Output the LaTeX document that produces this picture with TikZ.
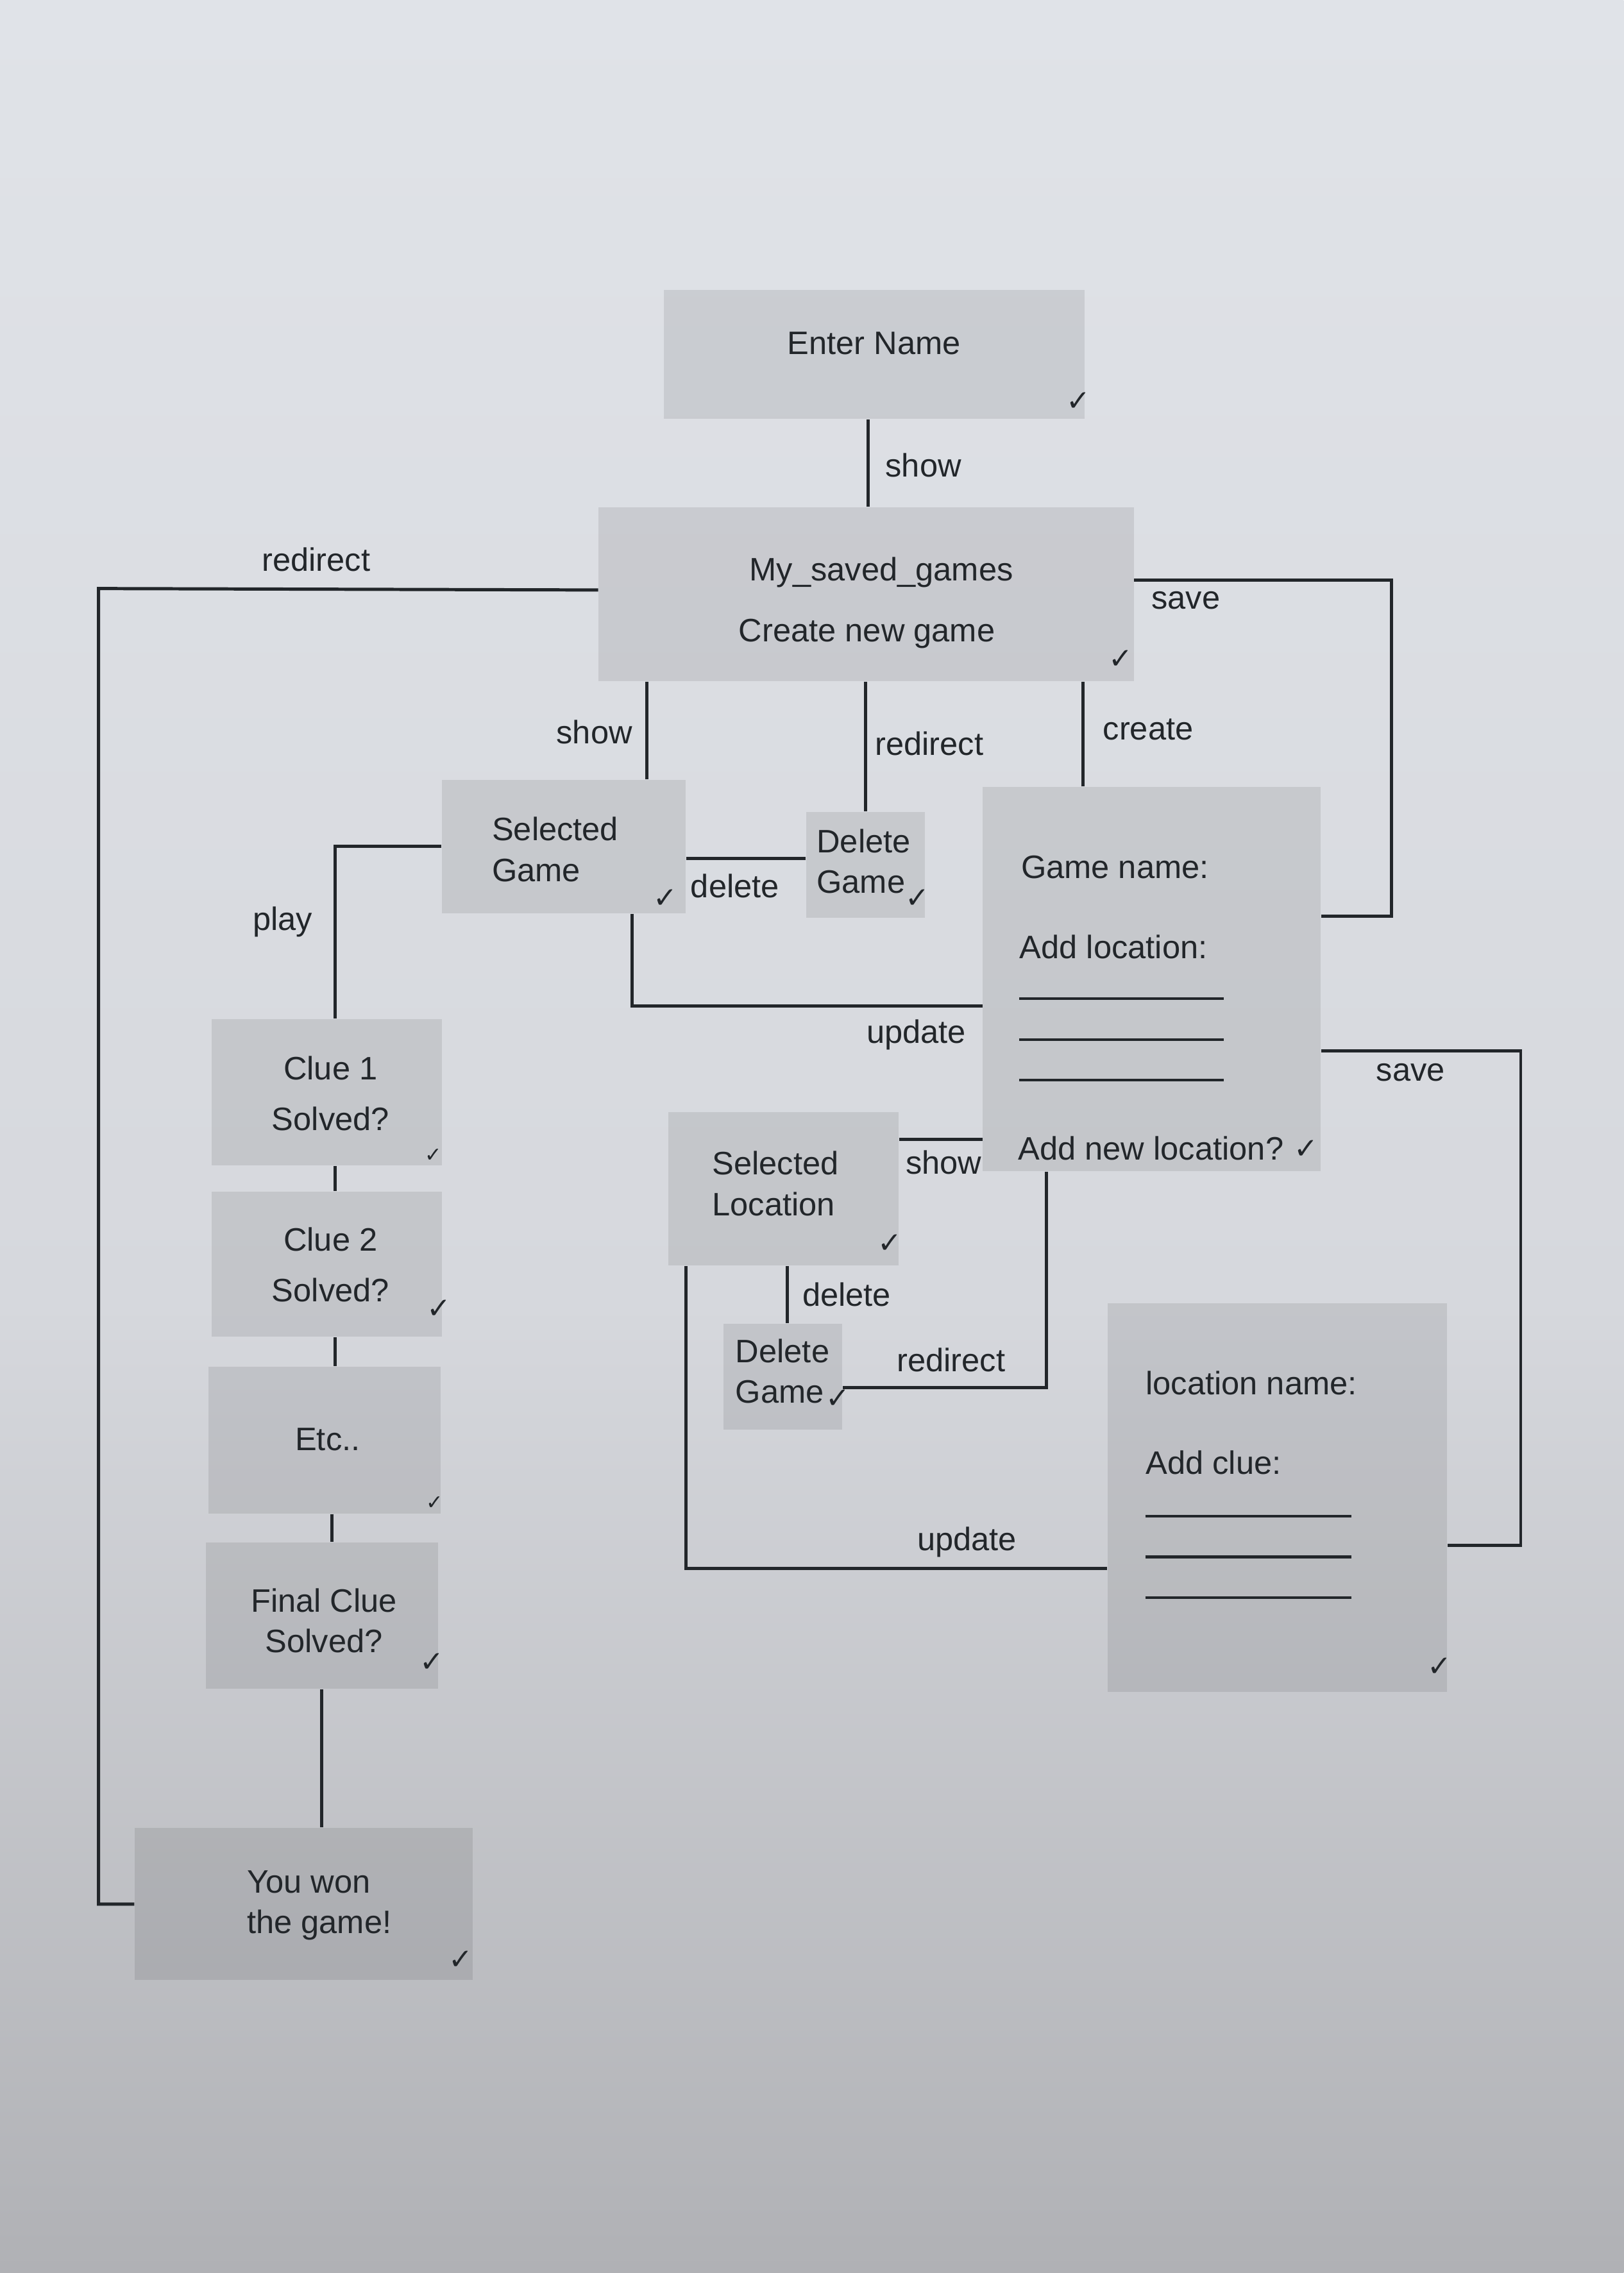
\documentclass[tikz,border=0pt]{standalone}
\usepackage{fontspec}
\setmainfont{Liberation Sans}
\newfontfamily\chkfont{DejaVu Sans}
\usetikzlibrary{calc}
\definecolor{ink}{RGB}{34,38,42}
\definecolor{bgtop}{RGB}{224,227,232}
\definecolor{bgmid}{RGB}{214,216,221}
\definecolor{bgbot}{RGB}{176,177,181}
\tikzset{
  box/.style={rectangle, draw=none, fill=black, fill opacity=0.085, text opacity=1, inner sep=0pt},
  txt/.style={text=ink, font=\fontsize{11.2}{14}\selectfont, inner sep=0pt},
  cluetxt/.style={text=ink, font=\fontsize{11.2}{17.5}\selectfont, inner sep=0pt, align=center},
  lbl/.style={text=ink, font=\fontsize{11.2}{14}\selectfont, inner sep=0pt},
  chk/.style={text=ink, font=\chkfont\fontsize{10}{10}\selectfont, inner sep=0pt},
  smallchk/.style={text=ink, font=\chkfont\fontsize{7}{7}\selectfont, inner sep=0pt},
  conn/.style={draw=ink, line width=1.1pt},
  blank/.style={draw=ink, line width=0.9pt}
}
\begin{document}
\begin{tikzpicture}[x=0.5pt,y=-0.5pt]
\useasboundingbox (0,0) rectangle (1120,1568);
\shade[top color=bgtop, bottom color=bgmid] (0,0) rectangle (1120,900);
\shade[top color=bgmid, bottom color=bgbot] (0,899) rectangle (1120,1568);

% boxes
\node[box, minimum width=145pt, minimum height=44.5pt] (enter) at (603,244.5) {};
\node[box, minimum width=184.5pt, minimum height=60pt] (saved) at (597.5,410) {};
\node[box, minimum width=84pt, minimum height=46pt] (selgame) at (389,584) {};
\node[box, minimum width=41pt, minimum height=36.5pt] (delgame) at (597,596.5) {};
\node[box, minimum width=116.5pt, minimum height=132.5pt] (gamebox) at (794.5,675.5) {};
\node[box, minimum width=79.5pt, minimum height=50.5pt] (clue1) at (225.5,753.5) {};
\node[box, minimum width=79.5pt, minimum height=50pt] (clue2) at (225.5,872) {};
\node[box, minimum width=80pt, minimum height=50.5pt] (etc) at (224,993.5) {};
\node[box, minimum width=80pt, minimum height=50.5pt] (final) at (222,1114.5) {};
\node[box, minimum width=116.5pt, minimum height=52.5pt] (won) at (209.5,1313.5) {};
\node[box, minimum width=79.5pt, minimum height=53pt] (selloc) at (540.5,820) {};
\node[box, minimum width=41pt, minimum height=36.5pt] (delloc) at (540,949.5) {};
\node[box, minimum width=117pt, minimum height=134pt] (locbox) at (881,1033) {};

% box texts
\node[txt] (tEnter) at (603,237) {Enter Name};
\node[txt] (tSaved1) at (608,395) {My\_saved\_games};
\node[txt] (tSaved2) at (598,437) {Create new game};
\node[txt, align=left, anchor=west] (tSelGame) at (339,586) {Selected\\Game};
\node[txt, align=left, anchor=west] (tDelGame) at (563,594) {Delete\\Game};
\node[txt, anchor=west] (tGameName) at (704,598) {Game name:};
\node[txt, anchor=west] (tAddLoc) at (703,653) {Add location:};
\node[txt, anchor=west] (tAddNew) at (702,792) {Add new location?};
\node[cluetxt] (tClue1) at (228,754.5) {Clue 1\\Solved?};
\node[cluetxt] (tClue2) at (228,872.5) {Clue 2\\Solved?};
\node[cluetxt] (tEtc) at (226,993) {Etc..};
\node[txt, align=center] (tFinal) at (223.5,1118) {Final Clue\\Solved?};
\node[txt, align=left, anchor=west] (tWon) at (170,1314.5) {You won\\the game!};
\node[txt, align=left, anchor=west] (tSelLoc) at (491,816.5) {Selected\\Location};
\node[txt, align=left, anchor=west] (tDelLoc) at (507,946) {Delete\\Game};
\node[txt, anchor=west] (tLocName) at (790,954) {location name:};
\node[txt, anchor=west] (tAddClue) at (790,1009) {Add clue:};

% form blanks
\draw[blank] (703,689) -- (844,689);
\draw[blank] (703,717) -- (844,717);
\draw[blank] (703,745) -- (844,745);
\draw[blank] (790,1046) -- (932,1046);
\draw[blank] (790,1074) -- (932,1074);
\draw[blank] (790,1102) -- (932,1102);

% ticks
\node[chk] (k1) at (744,277) {✓};
\node[chk] (k2) at (773,455) {✓};
\node[chk] (k3) at (459,620) {✓};
\node[chk] (k4) at (633,620) {✓};
\node[chk] (k5) at (901,793) {✓};
\node[smallchk] (k6) at (299,797) {✓};
\node[chk] (k7) at (303,903) {✓};
\node[smallchk] (k8) at (300,1037) {✓};
\node[chk] (k9) at (298,1147) {✓};
\node[chk] (k10) at (318,1352) {✓};
\node[chk] (k11) at (614,858) {✓};
\node[chk] (k12) at (578,965) {✓};
\node[chk] (k13) at (993,1150) {✓};

% corner coordinates
\coordinate (rd) at (68,406);
\coordinate (s1) at (960,400);
\coordinate (s2) at (1049,725);

% connectors
\draw[conn] ([xshift=-2pt]enter.south) -- ([xshift=-2pt]enter.south |- saved.north);
\draw[conn] ([yshift=1.5pt]saved.west) -- (rd) |- (won.west);
\draw[conn] ([yshift=5pt]saved.east) -- (s1) |- ([yshift=21.75pt]gamebox.east);
\draw[conn] ([xshift=28.5pt]selgame.north) -- ([xshift=28.5pt]selgame.north |- saved.south);
\draw[conn] (delgame.north) -- (delgame.north |- saved.south);
\draw[conn] ([xshift=-23.75pt]gamebox.north) -- ([xshift=-23.75pt]gamebox.north |- saved.south);
\draw[conn] ([yshift=-4pt]selgame.east) -- ([yshift=-4pt]selgame.east -| delgame.west);
\draw[conn] ([xshift=23.5pt]selgame.south) |- ([yshift=-9.25pt]gamebox.west);
\draw[conn] ([yshift=-24.75pt]gamebox.east) -- (s2) |- ([yshift=-16.5pt]locbox.east);
\draw[conn] (selgame.west) -| ([xshift=2.75pt]clue1.north);
\draw[conn] ([xshift=2.75pt]clue1.south) -- ([xshift=2.75pt]clue1.south |- clue2.north);
\draw[conn] ([xshift=2.75pt]clue2.south) -- ([xshift=2.75pt]clue2.south |- etc.north);
\draw[conn] ([xshift=2.5pt]etc.south) -- ([xshift=2.5pt]etc.south |- final.north);
\draw[conn] (final.south) -- (final.south |- won.north);
\draw[conn] ([yshift=17pt]selloc.east) -- ([yshift=17pt]selloc.east -| gamebox.west);
\draw[conn] ([xshift=1.5pt]delloc.north) -- ([xshift=1.5pt]delloc.north |- selloc.south);
\draw[conn] ([xshift=-36.25pt]gamebox.south) |- ([yshift=-3.75pt]delloc.east);
\draw[conn] ([xshift=-33.75pt]selloc.south) |- ([yshift=-24.5pt]locbox.west);

% connector labels
\node[lbl] (l1) at (637,321) {show};
\node[lbl] (l2) at (218,386) {redirect};
\node[lbl] (l3) at (818,414) {save};
\node[lbl] (l4) at (410,505) {show};
\node[lbl] (l5) at (641,513) {redirect};
\node[lbl] (l6) at (792,503) {create};
\node[lbl] (l7) at (507,611) {delete};
\node[lbl] (l8) at (632,714) {update};
\node[lbl] (l9) at (973,740) {save};
\node[lbl] (l10) at (195,636) {play};
\node[lbl] (l11) at (651,802) {show};
\node[lbl] (l12) at (584,893) {delete};
\node[lbl] (l13) at (656,938) {redirect};
\node[lbl] (l14) at (667,1064) {update};
\end{tikzpicture}
\end{document}
